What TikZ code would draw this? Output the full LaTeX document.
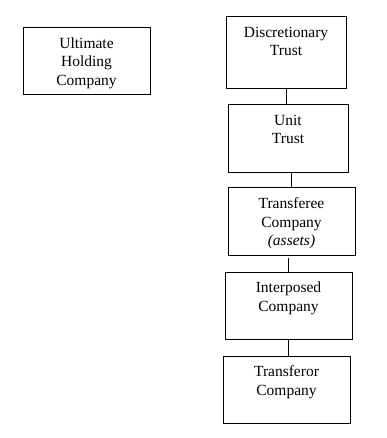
\documentclass[tikz,border=0pt]{standalone}
\usepackage{fontspec}
\setmainfont{Liberation Serif}

% testo allineato in alto dentro il riquadro
\newcommand{\boxtext}[3]{\parbox[c][#2][t]{#1}{\centering\rule{0pt}{20.5pt}#3}}

\begin{document}
\begin{tikzpicture}[x=1pt, y=-1pt, line width=1pt]

        \useasboundingbox (0,0) rectangle (386,438);

        \tikzset{
            entity/.style={draw, inner sep=0pt, font=\fontsize{15.5}{18.5}\selectfont},
            link/.style={draw, line width=1pt}
        }

        % ----------------------------------------------------
        % Società a sinistra
        % ----------------------------------------------------
        \node[entity] (holding) at (86.5, 61.5)
            {\boxtext{127pt}{67pt}{Ultimate\\Holding\\Company}};

        % ----------------------------------------------------
        % Catena a destra
        % ----------------------------------------------------
        \node[entity] (disctrust) at (286, 53)
            {\boxtext{120pt}{72pt}{Discretionary\\Trust}};
        \node[entity] (unittrust) at (288, 139)
            {\boxtext{120pt}{68pt}{Unit\\Trust}};
        \node[entity] (transferee) at (291.5, 221.5)
            {\boxtext{127pt}{67pt}{Transferee\\Company\\\textit{(assets)}}};
        \node[entity] (interposed) at (288.5, 305.5)
            {\boxtext{127pt}{67pt}{Interposed\\Company}};
        \node[entity] (transferor) at (286.5, 389.5)
            {\boxtext{127pt}{67pt}{Transferor\\Company}};

        % Collegamenti verticali
        \draw[link] (disctrust.south) -- (disctrust.south |- unittrust.north);
        \draw[link] (unittrust.south -| transferee) -- (transferee.north);
        \draw[link] ([yshift=-2pt]transferee.south -| interposed) -- (interposed.north);
        \draw[link] (interposed.south) -- (interposed.south |- transferor.north);

    \end{tikzpicture}
\end{document}
